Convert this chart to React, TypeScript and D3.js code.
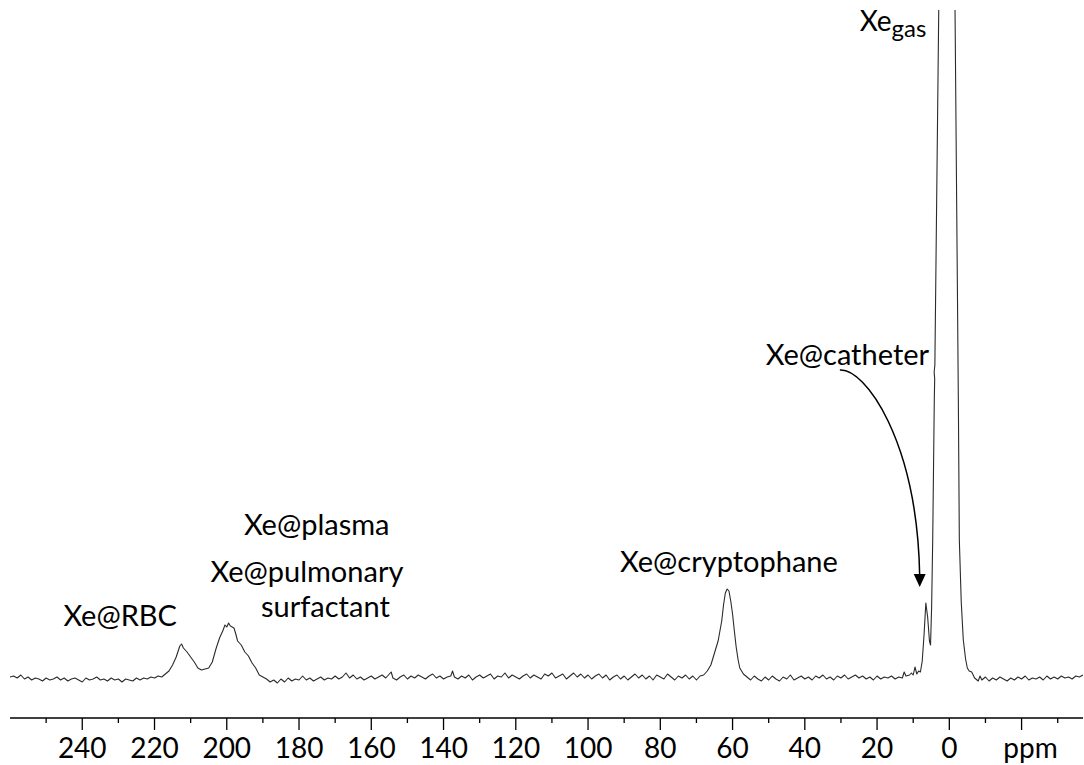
import React, { useRef, useEffect } from 'react';
import * as d3 from 'd3';

// [ppm, intensity], baseline = 0
const baselineLeft: [number, number][] = [
  [260, 0.0], [259, 0.1], [258, -0.1], [257, 0.2], [256, -0.2], [255, 0.0], [254, -0.3], [253, -0.1],
  [252, -0.2], [251, -0.4], [250, -0.1], [249, -0.3], [248, -0.2], [247, 0.0], [246, -0.3], [245, -0.1],
  [244, -0.4], [243, -0.2], [242, -0.1], [241, -0.3], [240, -0.5], [239, -0.1], [238, -0.3], [237, -0.2],
  [236, 0.0], [235, -0.3], [234, -0.2], [233, -0.4], [232, -0.1], [231, -0.3], [230, -0.2], [229, -0.5],
  [228, -0.2], [227, -0.3], [226, -0.4], [225, -0.1], [224, -0.3], [223, -0.1], [222, -0.2], [221, 0.0],
  [220, -0.1],
];

const bloodRegion: [number, number][] = [
  [219, 0.1], [218, 0.0], [217, 0.3], [216, 0.6], [215, 1.2], [214, 2.0], [213, 3.1], [212.5, 3.3],
  [212, 2.9], [211, 2.5], [210, 2.0], [209, 1.5], [208, 0.9], [207, 0.7], [206, 0.8], [205, 0.9],
  [204, 1.5], [203, 2.8], [202, 3.9], [201, 4.7], [200.5, 5.2], [200, 5.0], [199.5, 5.4], [199, 5.1],
  [198, 4.9], [197.5, 4.3], [197, 3.6], [196, 3.2], [195, 2.5], [194, 2.1], [193, 1.4], [192, 0.9],
  [191, 0.2], [190, 0.0], [189, -0.2],
];

const baselineMid: [number, number][] = [
  [188, -0.5], [187, -0.3], [186, -0.6], [185, -0.2], [184, -0.5], [183, -0.1], [182, -0.4], [181, -0.2],
  [180, -0.3], [179, 0.1], [178, -0.3], [177, -0.1], [176, -0.4], [175, -0.2], [174, 0.0], [173, -0.3],
  [172, -0.1], [171, -0.2], [170, 0.1], [169, -0.2], [168, 0.0], [167, 0.4], [166, -0.1], [165, 0.2],
  [164, -0.2], [163, 0.0], [162, -0.3], [161, -0.1], [160, 0.1], [159, -0.2], [158, 0.0], [157, 0.2],
  [156, -0.1], [155, 0.3], [154.5, 0.5], [154, -0.1], [153, -0.3], [152, 0.0], [151, 0.2], [150, -0.2],
  [149, 0.1], [148, -0.1], [147, 0.2], [146, 0.0], [145, -0.2], [144, 0.1], [143, 0.3], [142, -0.1],
  [141, 0.1], [140, -0.2], [139, 0.0], [138, 0.1], [137.5, 0.6], [137, 0.0], [136, -0.2], [135, 0.1],
  [134, -0.1], [133, 0.2], [132, -0.3], [131, 0.0], [130, 0.2], [129, -0.1], [128, 0.1], [127, 0.3],
  [126, -0.2], [125, 0.1], [124, 0.0], [123, 0.4], [122, -0.1], [121, 0.2], [120, 0.0], [119, -0.2],
  [118, 0.1], [117, 0.3], [116, -0.1], [115, 0.2], [114, 0.0], [113, -0.2], [112, 0.3], [111, 0.1],
  [110, 0.4], [109, -0.1], [108, 0.1], [107, 0.3], [106, -0.2], [105, 0.1], [104, 0.4], [103, 0.0],
  [102, 0.3], [101, -0.1], [100, 0.2], [99, -0.2], [98, 0.1], [97, 0.3], [96, -0.1], [95, 0.2],
  [94, -0.3], [93, 0.0], [92, 0.2], [91, -0.2], [90, 0.1], [89, -0.3], [88, 0.0], [87, 0.3],
  [86, -0.1], [85, 0.2], [84, -0.2], [83, 0.1], [82, -0.3], [81, 0.2], [80, 0.0], [79, -0.2],
  [78, 0.3], [77, 0.0], [76, -0.3], [75, 0.1], [74, -0.1], [73, 0.2], [72, -0.2], [71, 0.1],
  [70, -0.3], [69, 0.1],
];

const cryptophaneRegion: [number, number][] = [
  [68, 0.2], [67, 0.6], [66, 1.2], [65, 2.4], [64, 3.6], [63.5, 4.6], [63, 5.6], [62.5, 7.2],
  [62, 8.4], [61.5, 8.8], [61, 8.6], [60.5, 7.6], [60, 6.3], [59.5, 4.6], [59, 3.0], [58.5, 1.8],
  [58, 0.9], [57, 0.3], [56, 0.0],
];

const baselineNear: [number, number][] = [
  [55, -0.3], [54, 0.1], [53, -0.2], [52, -0.4], [51, 0.0], [50, -0.3], [49, 0.1], [48, -0.2],
  [47, -0.4], [46, 0.0], [45, -0.2], [44, 0.2], [43, -0.3], [42, -0.1], [41, 0.1], [40, -0.2],
  [39, 0.0], [38, -0.3], [37, 0.1], [36, -0.1], [35, 0.2], [34, -0.2], [33, 0.0], [32, -0.3],
  [31, 0.1], [30, -0.1], [29, 0.2], [28, -0.2], [27, 0.0], [26, 0.2], [25, -0.1], [24, 0.1],
  [23, -0.2], [22, 0.0], [21, -0.3], [20, 0.1], [19, -0.2], [18, 0.0], [17, -0.1], [16, 0.1],
  [15, -0.2], [14, 0.0], [13, -0.1], [12.5, 0.5], [12, 0.1], [11, 0.2], [10.5, 0.4],
];

const gasRegion: [number, number][] = [
  [10, 0.2], [9.5, 1.0], [9, 0.3], [8.5, 0.6], [8, 0.5], [7.5, 1.6], [7, 4.2], [6.5, 7.4],
  [6, 6.0], [5.5, 3.6], [5.2, 3.2], [4.9, 7.0], [4.6, 13.7], [4.15, 28.0], [4.05, 29.8], [4.2, 30.5],
  [4.0, 31.2], [2.93, 66.7], [0.8, 150], [-1.58, 66.7], [-2.49, 28.0], [-2.77, 13.7], [-3.3, 7.5],
  [-3.87, 3.7], [-4.5, 1.8], [-4.98, 0.9], [-5.5, 0.6], [-6.2, 0.5],
];

const baselineRight: [number, number][] = [
  [-7, -0.1], [-8, -0.4], [-8.5, 0.1], [-9, -0.3], [-10, 0.0], [-11, -0.4], [-12, -0.1], [-13, -0.3],
  [-14, 0.0], [-15, -0.2], [-16, -0.4], [-17, -0.1], [-18, -0.3], [-19, 0.0], [-20, -0.2], [-21, 0.1],
  [-22, -0.3], [-23, -0.1], [-24, -0.2], [-25, 0.0], [-26, -0.3], [-27, 0.1], [-28, -0.2], [-29, 0.0],
  [-30, -0.2], [-31, 0.1], [-32, -0.1], [-33, 0.0], [-34, -0.2], [-35, 0.1], [-36, 0.0], [-37, 0.2],
];

const tickValues = [240, 220, 200, 180, 160, 140, 120, 100, 80, 60, 40, 20, 0, -20];
const tickLabels = ['240', '220', '200', '180', '160', '140', '120', '100', '80', '60', '40', '20', '0', 'ppm'];
const minorTicks = [250, 230, 210, 190, 170, 150, 130, 110, 90, 70, 50, 30, 10, -10, -30];

// label text, ppm (centre), intensity (baseline)
const labels: { text: string; ppm: number; y: number }[] = [
  { text: 'Xe@RBC', ppm: 229.5, y: 5.1 },
  { text: 'Xe@plasma', ppm: 175.1, y: 14.2 },
  { text: 'Xe@pulmonary', ppm: 177.8, y: 9.5 },
  { text: 'surfactant', ppm: 172.7, y: 6.0 },
  { text: 'Xe@cryptophane', ppm: 61.0, y: 10.5 },
  { text: 'Xe@catheter', ppm: 28.2, y: 31.2 },
];
const gasLabel = { main: 'Xe', sub: 'gas', ppm: 15.6, y: 64.6 };
// arrow from the catheter label to its peak: start, two controls, tip
const arrowPts: [number, number][] = [[30.3, 30.7], [23.4, 30.9], [8.9, 23.7], [8.2, 9.0]];

const W = 1084;
const H = 765;
const FONT = 'Lato, "Open Sans", sans-serif';

const Spectrum: React.FC = () => {
  const ref = useRef<HTMLDivElement>(null);

  useEffect(() => {
    d3.select(ref.current).select('svg').remove();

    const svg = d3.select(ref.current)
      .append('svg')
      .attr('width', W)
      .attr('height', H)
      .style('display', 'block');

    const x = d3.scaleLinear().domain([260, -37]).range([10, 1083]);
    const y = d3.scaleLinear().domain([0, 66.7]).range([677, 10]);

    svg.append('defs').append('clipPath').attr('id', 'plotClip')
      .append('rect').attr('x', 0).attr('y', 10).attr('width', W).attr('height', 705);

    const data = [
      ...baselineLeft, ...bloodRegion, ...baselineMid, ...cryptophaneRegion,
      ...baselineNear, ...gasRegion, ...baselineRight,
    ];

    const line = d3.line<[number, number]>()
      .x(d => x(d[0]))
      .y(d => y(d[1]));

    svg.append('path')
      .datum(data)
      .attr('clip-path', 'url(#plotClip)')
      .attr('d', line)
      .style('fill', 'none')
      .style('stroke', '#2b2b2b')
      .style('stroke-width', 1.1)
      .style('stroke-linejoin', 'round');

    // axis
    const axisY = 718;
    const axis = svg.append('g');
    axis.append('line')
      .attr('x1', x(260)).attr('x2', x(-37))
      .attr('y1', axisY).attr('y2', axisY)
      .style('stroke', '#000').style('stroke-width', 1.5);

    axis.selectAll('.major')
      .data(tickValues)
      .enter().append('line')
      .attr('x1', d => x(d)).attr('x2', d => x(d))
      .attr('y1', axisY).attr('y2', axisY + 12)
      .style('stroke', '#000').style('stroke-width', 1.3);

    axis.selectAll('.minor')
      .data(minorTicks)
      .enter().append('line')
      .attr('x1', d => x(d)).attr('x2', d => x(d))
      .attr('y1', axisY).attr('y2', axisY + 5)
      .style('stroke', '#000').style('stroke-width', 1.3);

    axis.selectAll('.tickLabel')
      .data(tickValues)
      .enter().append('text')
      .attr('x', (d, i) => x(d) + (tickLabels[i] === 'ppm' ? 9 : 0))
      .attr('y', 758)
      .attr('text-anchor', 'middle')
      .style('font-family', FONT)
      .style('font-size', '28px')
      .attr('fill', '#000')
      .text((d, i) => tickLabels[i]);

    // peak labels
    svg.selectAll('.peakLabel')
      .data(labels)
      .enter().append('text')
      .attr('x', d => x(d.ppm))
      .attr('y', d => y(d.y))
      .attr('text-anchor', 'middle')
      .style('font-family', FONT)
      .style('font-size', '29px')
      .attr('fill', '#000')
      .text(d => d.text);

    const gas = svg.append('text')
      .attr('x', x(gasLabel.ppm))
      .attr('y', y(gasLabel.y))
      .attr('text-anchor', 'middle')
      .style('font-family', FONT)
      .style('font-size', '28px')
      .attr('fill', '#000');
    gas.append('tspan').text(gasLabel.main);
    gas.append('tspan').attr('dy', 6).style('font-size', '24px').text(gasLabel.sub);

    // catheter arrow
    const p = arrowPts.map(d => [x(d[0]), y(d[1])]);
    const path = d3.path();
    path.moveTo(p[0][0], p[0][1]);
    path.bezierCurveTo(p[1][0], p[1][1], p[2][0], p[2][1], p[3][0], p[3][1] - 11);
    svg.append('path')
      .attr('d', path.toString())
      .style('fill', 'none')
      .style('stroke', '#000')
      .style('stroke-width', 1.5);

    const tip = p[3];
    svg.append('path')
      .attr('d', `M${tip[0]},${tip[1]} L${tip[0] - 6},${tip[1] - 13} L${tip[0] + 6},${tip[1] - 13} Z`)
      .style('fill', '#000');
  }, []);

  return <div ref={ref} style={{ position: 'absolute', left: 0, top: 0 }} />;
};

export default function App() {
  return <Spectrum />;
}
